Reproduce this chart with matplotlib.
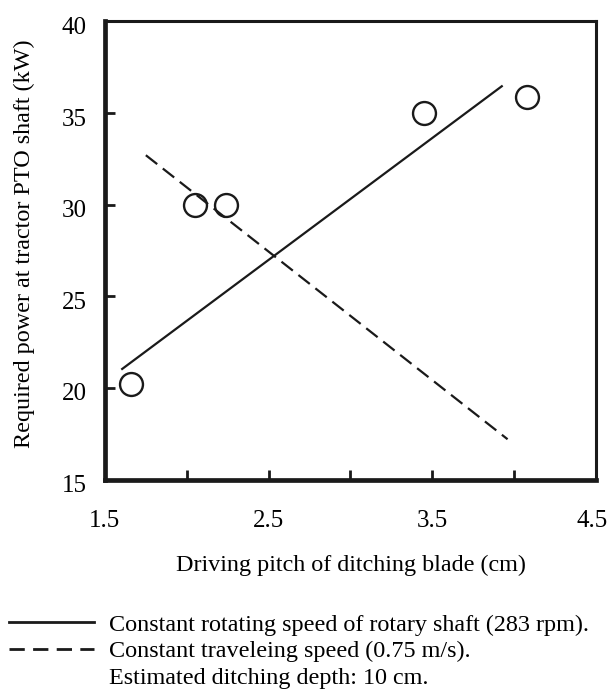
import matplotlib
matplotlib.use("Agg")
import matplotlib.pyplot as plt
from matplotlib.lines import Line2D
from matplotlib.transforms import ScaledTranslation

# measured points (driving pitch cm, required power kW)
pitch = [1.66, 2.05, 2.24, 3.45, 4.08]
power = [20.2, 30.0, 30.0, 35.0, 35.9]

# fitted lines: endpoints
rot_x = [1.60, 3.93]
rot_y = [21.0, 36.5]
trav_x = [1.75, 3.96]
trav_y = [32.7, 17.2]

xticklabels = ["1.5", "2.5", "3.5", "4.5"]
xtick_vals = [1.5, 2.5, 3.5, 4.5]
xminor_vals = [2.0, 2.5, 3.0, 3.5, 4.0]
ytick_vals = [15, 20, 25, 30, 35, 40]

legend_labels = [
    "Constant rotating speed of rotary shaft (283 rpm).",
    "Constant traveleing speed (0.75 m/s).",
    "Estimated ditching depth: 10 cm.",
]

plt.rcParams["font.family"] = ["Liberation Serif", "DejaVu Serif"]
FS = 17.4
TICK_FS = 18
INK = "#1a1a1a"

fig = plt.figure(figsize=(6.10, 6.92), dpi=100, facecolor="white")
ax = fig.add_axes([0.172, 0.307, 0.805, 0.662])

ax.plot(rot_x, rot_y, color=INK, linewidth=1.6, solid_capstyle="butt")
ax.plot(trav_x, trav_y, color=INK, linewidth=1.6, linestyle=(0, (6.5, 3.2)))
ax.plot(pitch, power, linestyle="none", marker="o", markersize=16.5,
        markerfacecolor="none", markeredgecolor=INK, markeredgewidth=1.7)

ax.set_xlim(1.5, 4.5)
ax.set_ylim(15, 40)

# labels sit at 1.5..4.5 but the inward ticks are every 0.5 from 2 to 4
ax.xaxis.remove_overlapping_locs = False
ax.set_xticks(xtick_vals)
ax.set_xticklabels(xticklabels)
ax.set_xticks(xminor_vals, minor=True)
ax.tick_params(axis="x", which="major", length=0, pad=22, labelsize=TICK_FS)
ax.tick_params(axis="x", which="minor", direction="in", length=7, width=2,
               color=INK)
# keep the last label inside the canvas
last = ax.get_xticklabels()[-1]
last.set_transform(last.get_transform()
                   + ScaledTranslation(-4 / 100, 0, fig.dpi_scale_trans))

ax.set_yticks(ytick_vals)
ax.tick_params(axis="y", which="major", direction="in", length=7, width=2,
               pad=13, labelsize=TICK_FS, color=INK)
# y labels in the original sit a few pixels low
shift = ScaledTranslation(0, -4 / 100, fig.dpi_scale_trans)
for lab in ax.get_yticklabels():
    lab.set_transform(lab.get_transform() + shift)

for side in ("left", "bottom"):
    ax.spines[side].set_linewidth(3.4)
for side in ("top", "right"):
    ax.spines[side].set_linewidth(2.2)
for sp in ax.spines.values():
    sp.set_color(INK)

ax.set_xlabel("Driving pitch of ditching blade (cm)", fontsize=FS, labelpad=16)
ax.set_ylabel("Required power at tractor PTO shaft (kW)", fontsize=FS,
              labelpad=19)
ax.yaxis.label.set_y(0.515)

handles = [
    Line2D([], [], color=INK, linewidth=2.0),
    Line2D([], [], color=INK, linewidth=2.0, linestyle=(0, (5.5, 3))),
    Line2D([], [], linestyle="none"),
]
fig.legend(handles, legend_labels, loc="upper left",
           bbox_to_anchor=(0.015, 0.113), frameon=False, fontsize=FS,
           handlelength=3.5, handletextpad=0.62, labelspacing=0.2,
           borderpad=0, borderaxespad=0)

fig.savefig("out.png", dpi=100, facecolor="white")
